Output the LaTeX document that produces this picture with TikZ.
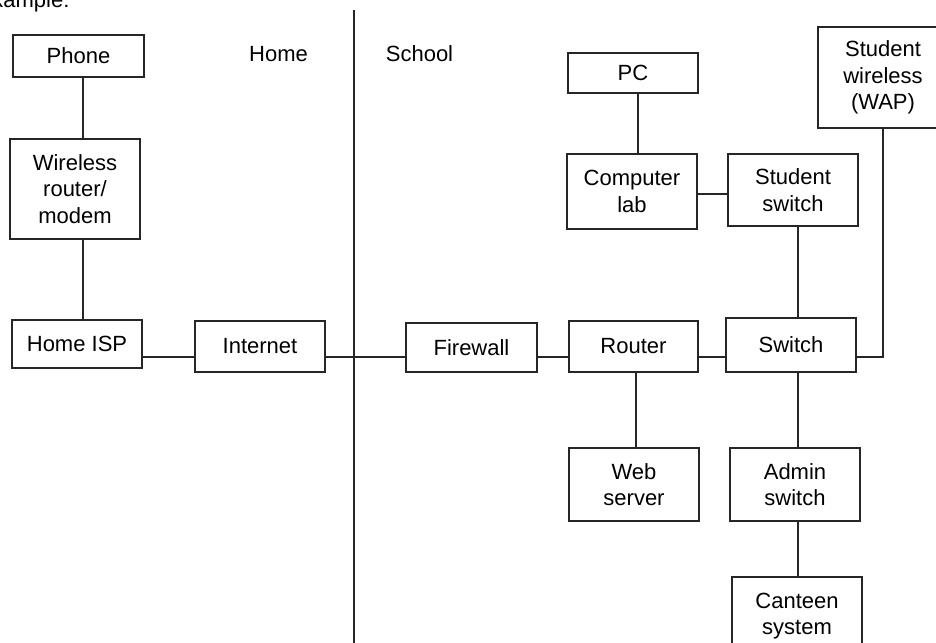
\documentclass[tikz,border=0pt]{standalone}
\usepackage{fontspec}
\setmainfont{Liberation Sans}
\begin{document}
\begin{tikzpicture}[x=1pt,y=-1pt,
  every node/.style={font=\fontsize{22}{26.5}\selectfont},
  box/.style={draw=black!85, line width=1.8pt, inner sep=0pt, align=center,
              minimum width=#1, minimum height=42pt},
  box/.default=130pt,
  link/.style={draw=black!85, line width=1.8pt},
  label/.style={anchor=base}]
\useasboundingbox (0,0) rectangle (936,642);

% heading cut at the top edge
\node[anchor=base east] (example) at (73,8) {Example:};

% Home / School divider
\coordinate (divtop) at (354,10);
\coordinate (divbot) at (354,645);
\draw[link] (divtop) -- (divbot);
\node[label] (home) at (278.5,62) {Home};
\node[label] (school) at (419.5,62) {School};

% home side
\node[box=131pt, minimum height=42pt] (phone) at (78.5,56) {Phone};
\node[box, minimum height=100pt] (wifi) at (75,189) {Wireless\\router/\\modem};
\node[box, minimum height=48pt] (isp) at (77,344) {Home ISP};
\node[box, minimum height=51pt] (internet) at (260,346.5) {Internet};

% school side
\node[box=131pt, minimum height=49pt] (firewall) at (471.5,347.5) {Firewall};
\node[box=129pt, minimum height=51pt] (router) at (633.5,346.5) {Router};
\node[box, minimum height=54pt] (switch) at (791,345) {Switch};
\node[box, minimum height=40pt] (pc) at (633,73) {PC};
\node[box, minimum height=75pt] (lab) at (632,191.5) {Computer\\lab};
\node[box, minimum height=72pt] (sswitch) at (793,190) {Student\\switch};
\node[box, minimum height=101pt] (wap) at (883,77.5) {Student\\wireless\\(WAP)};
\node[box, minimum height=73pt] (web) at (634,484.5) {Web\\server};
\node[box, minimum height=73pt] (admin) at (795,484.5) {Admin\\switch};
\node[box, minimum height=78pt] (canteen) at (797,616) {Canteen\\system};

% connections
\draw[link] ([xshift=4.5pt]phone.south) -- ([xshift=4.5pt]phone.south |- wifi.north);
\draw[link] ([xshift=8pt]wifi.south) -- ([xshift=8pt]wifi.south |- isp.north);
\draw[link] ([yshift=-13pt]isp.east) -- ([yshift=-13pt]isp.east -| internet.west);
\draw[link] ([yshift=-10.5pt]internet.east) -- ([yshift=-10.5pt]internet.east -| firewall.west);
\draw[link] ([yshift=-9.5pt]firewall.east) -- ([yshift=-9.5pt]firewall.east -| router.west);
\draw[link] ([yshift=-10.5pt]router.east) -- ([yshift=-10.5pt]router.east -| switch.west);
\draw[link] ([yshift=-12pt]switch.east) -| (wap.south);
\draw[link] ([xshift=2.5pt]router.south) -- ([xshift=2.5pt]router.south |- web.north);
\draw[link] ([xshift=5pt]pc.south) -- ([xshift=5pt]pc.south |- lab.north);
\draw[link] ([yshift=-2.5pt]lab.east) -- ([yshift=-2.5pt]lab.east -| sswitch.west);
\draw[link] ([xshift=5pt]sswitch.south) -- ([xshift=5pt]sswitch.south |- switch.north);
\draw[link] ([xshift=7pt]switch.south) -- ([xshift=7pt]switch.south |- admin.north);
\draw[link] ([xshift=3pt]admin.south) -- ([xshift=3pt]admin.south |- canteen.north);
\end{tikzpicture}
\end{document}
